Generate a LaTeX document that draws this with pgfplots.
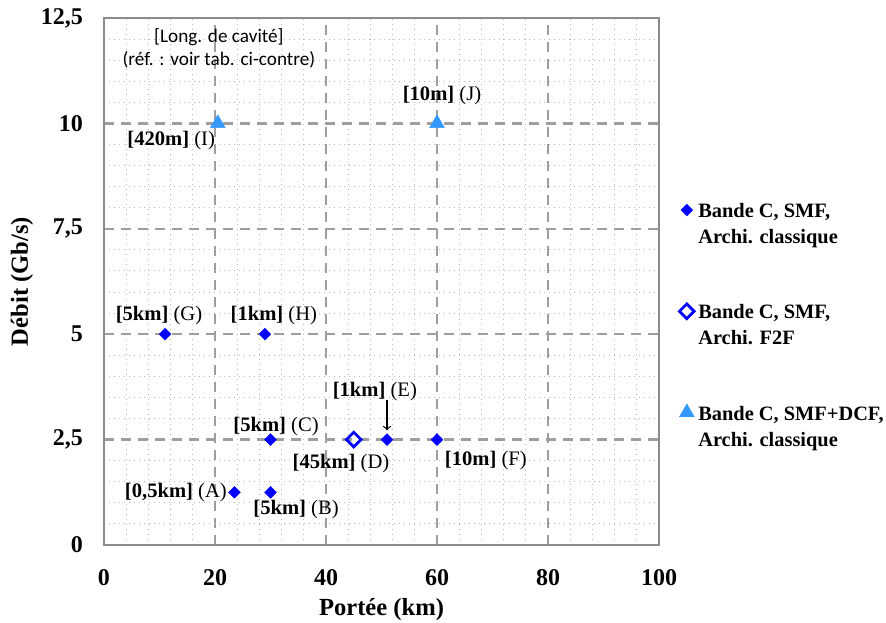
\documentclass[border=0pt]{standalone}
\usepackage{pgfplots}
\pgfplotsset{compat=1.18}
\usepackage{fontspec}
\setmainfont{Liberation Serif}
\newfontfamily\calfont{Carlito}
\definecolor{cblue}{HTML}{0000FF}
\definecolor{ltblue}{HTML}{3399FF}
\definecolor{gridgray}{HTML}{8C8C8C}
\begin{document}
\begin{tikzpicture}
\path[use as bounding box] (-52pt,-38.5pt) rectangle (391pt,272.5pt);
\begin{axis}[
  scale only axis,
  width=277.5pt, height=263.5pt,
  xmin=0, xmax=100, ymin=0, ymax=12.5,
  xtick={0,20,40,60,80,100},
  xticklabels={0,20,40,60,80,100},
  ytick={0,2.5,5,7.5,10,12.5},
  yticklabels={0,{2,5},5,{7,5},10,{12,5}},
  minor x tick num=4,
  minor y tick num=4,
  major tick length=0pt, minor tick length=0pt,
  grid=both,
  major grid style={line width=1.2pt, black!38, dash pattern=on 5pt off 3.5pt},
  minor grid style={line width=0.5pt, black!28, dotted},
  axis line style={line width=1.4pt, gridgray},
  ticklabel style={font=\fontsize{12}{14}\selectfont\bfseries},
  yticklabel style={xshift=-7pt},
  xticklabel style={yshift=-8.5pt},
  xlabel={Portée (km)},
  ylabel={Débit (Gb/s)},
  label style={font=\fontsize{12.3}{14}\selectfont\bfseries},
  xlabel style={at={(axis description cs:0.5,-0.122)}, anchor=center},
  ylabel style={at={(axis description cs:-0.148,0.5)}, anchor=center, rotate=0},
  legend cell align=left,
  legend style={at={(1.036,0.664)}, anchor=north west, draw=none, fill=none,
    font=\fontsize{10.2}{13}\selectfont\bfseries, row sep=36pt, inner sep=0pt,
    /tikz/every even column/.append style={column sep=0pt}},
  legend image code/.code={\draw[#1] plot coordinates {(0.1cm,0cm)};},
  clip=false,
]
\addplot[only marks, mark=square*, mark size=2.1pt, mark options={rotate=45, fill=cblue, draw=cblue, line width=0.2pt}]
  coordinates {(23.5,1.25) (30,1.25) (30,2.5) (51,2.5) (60,2.5) (11,5) (29,5)};
\addlegendentry{\begin{tabular}[t]{@{}l@{}}Bande C, SMF,\\Archi. classique\end{tabular}}
\addplot[only marks, mark=square, mark size=2.6pt, mark options={rotate=45, draw=cblue, line width=1.4pt}]
  coordinates {(45,2.5)};
\addlegendentry{\begin{tabular}[t]{@{}l@{}}Bande C, SMF,\\Archi. F2F\end{tabular}}
\addplot[only marks, mark=triangle*, mark size=4.3pt, mark options={fill=ltblue, draw=ltblue, line width=0.2pt}]
  coordinates {(20.5,10) (60,10)};
\addlegendentry{\begin{tabular}[t]{@{}l@{}}Bande C, SMF+DCF,\\Archi. classique\end{tabular}}
\begin{scope}[every node/.style={font=\fontsize{10.3}{12}\selectfont, inner sep=0pt}]
\node[anchor=east] at (axis cs:22.2,1.25) {\textbf{[0,5km]} (A)};
\node at (axis cs:34.6,0.83) {\textbf{[5km]} (B)};
\node at (axis cs:31,2.80) {\textbf{[5km]} (C)};
\node at (axis cs:42.7,1.94) {\textbf{[45km]} (D)};
\node at (axis cs:48.8,3.63) {\textbf{[1km]} (E)};
\node at (axis cs:68.8,2.01) {\textbf{[10m]} (F)};
\node at (axis cs:9.9,5.45) {\textbf{[5km]} (G)};
\node at (axis cs:30.6,5.45) {\textbf{[1km]} (H)};
\node at (axis cs:12.1,9.6) {\textbf{[420m]} (I)};
\node at (axis cs:60.9,10.66) {\textbf{[10m]} (J)};
\end{scope}
\draw[->, line width=0.6pt] (axis cs:51,3.45) -- (axis cs:51,2.72);
\node[font=\calfont\fontsize{9.6}{11.5}\selectfont, align=center, inner sep=0pt] at (axis cs:20.7,11.77) {[Long. de cavité]\\(réf. : voir tab. ci-contre)};
\end{axis}
\end{tikzpicture}
\end{document}
